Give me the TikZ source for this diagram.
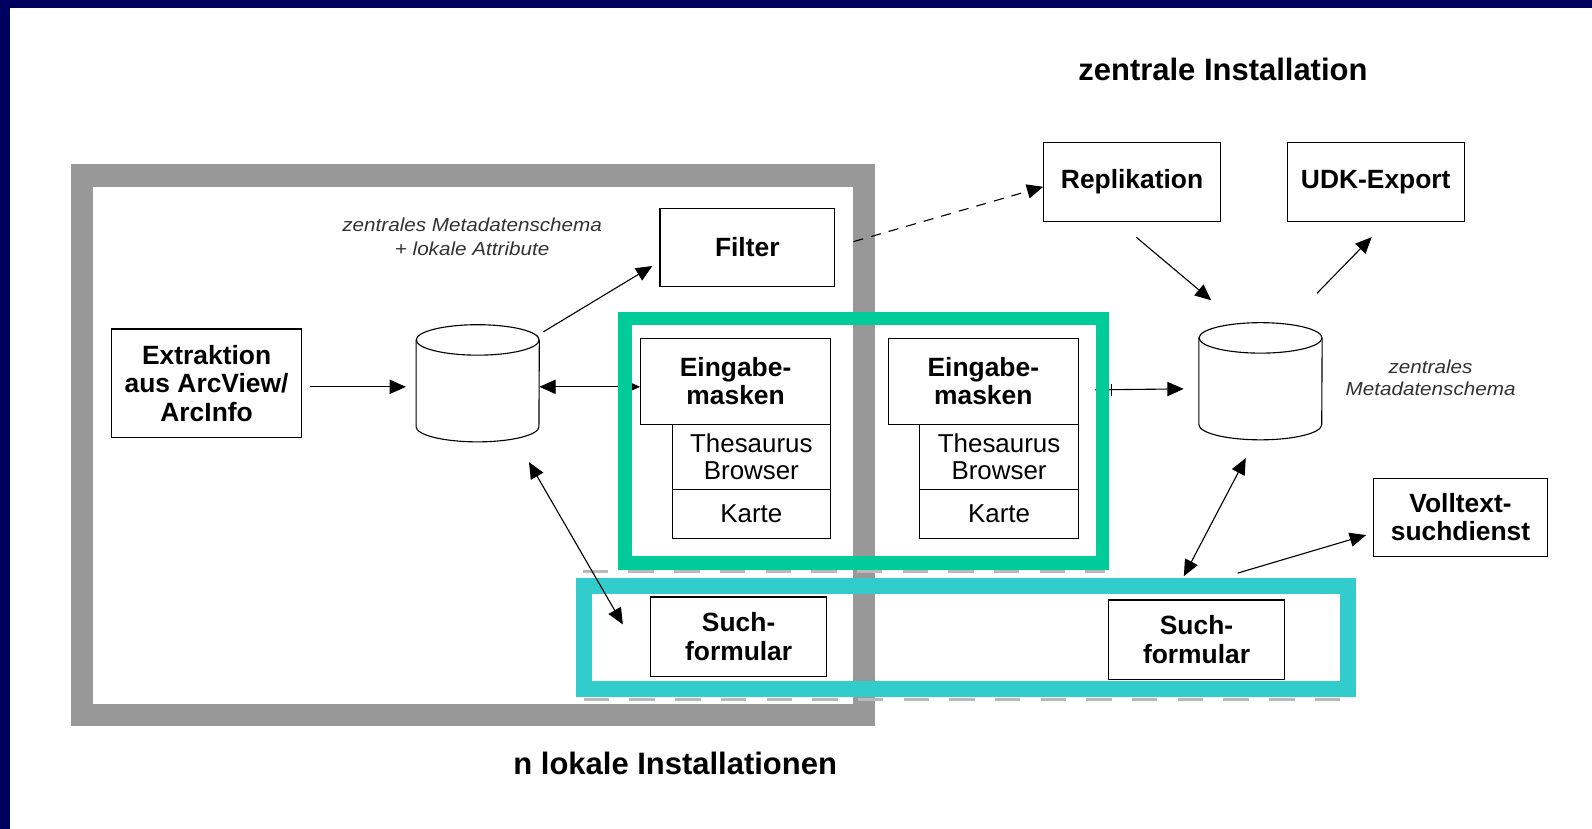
\documentclass[tikz,border=0pt]{standalone}
\usepackage{fontspec}
\setmainfont{Liberation Sans}
\newfontfamily\wideit[FakeStretch=1.1]{Liberation Sans}
\usetikzlibrary{arrows.meta,calc}
\definecolor{navy}{RGB}{0,0,96}
\definecolor{framegray}{RGB}{152,152,152}
\definecolor{mint}{RGB}{0,204,153}
\definecolor{tealbox}{RGB}{51,204,204}
\definecolor{shadowgray}{RGB}{185,185,185}
\definecolor{itgray}{RGB}{50,50,50}
\tikzset{
  boxnode/.style={draw=black, line width=1.1pt, inner sep=0pt, align=center},
  bflab/.style={font=\fontsize{26}{28}\selectfont\bfseries},
  rglab/.style={font=\fontsize{25.5}{27}\selectfont},
  itlab/.style={font=\wideit\itshape\fontsize{18.5}{24}\selectfont, text=itgray, align=center},
  titlelab/.style={font=\fontsize{30.5}{32}\selectfont\bfseries},
  dbnode/.style={draw=none, minimum width=121pt, minimum height=115pt, inner sep=0pt},
  arr/.style={line width=1.1pt, -{Triangle[length=16pt,width=14pt]}},
  darr/.style={line width=1.1pt, {Triangle[length=16pt,width=14pt]}-{Triangle[length=16pt,width=14pt]}},
  dasharr/.style={line width=1.1pt, dash pattern=on 10pt off 8pt, -{Triangle[length=16pt,width=14pt]}},
  cyl/.style={line width=1.1pt}
}
\newcommand{\drawcyl}[1]{%
  \draw[cyl] ([yshift=-15pt]#1.north) ellipse [x radius=60.5pt, y radius=15pt];
  \draw[cyl] ([yshift=-15pt]#1.north west) -- ([yshift=15pt]#1.south west)
     arc[start angle=180, end angle=360, x radius=60.5pt, y radius=15pt]
     -- ([yshift=-15pt]#1.north east);
}
\begin{document}
\begin{tikzpicture}[x=1pt,y=-1pt]
\useasboundingbox (0,0) rectangle (1568,816);
\fill[white] (0,0) rectangle (1568,816);
\fill[navy] (0,0) rectangle (1568,8);
\fill[navy] (0,0) rectangle (10,816);

% gray frame of local installations
\draw[framegray, line width=22pt] (81,173) rectangle (851,704);

% dashed shadows
\draw[shadowgray, line width=3pt, dash pattern=on 25pt off 20pt] (574,563) -- (1088,563);
\draw[shadowgray, line width=3pt, dash pattern=on 25pt off 20pt] (575,689) -- (1336,689);

% boxes
\node[boxnode, bflab, minimum width=187pt, minimum height=107pt] (ext) at (203.5,377.5) {Extraktion\\aus ArcView/\\ArcInfo};
\node[boxnode, bflab, minimum width=172pt, minimum height=77pt] (filter) at (736,243.5) {Filter};
\node[boxnode, bflab, minimum width=187pt, minimum height=85pt] (eL) at (724.5,375.5) {Eingabe-\\masken};
\node[boxnode, rglab, minimum width=156pt, minimum height=64pt] (tL) at (740,450) {Thesaurus\\Browser};
\node[boxnode, rglab, minimum width=156pt, minimum height=48pt] (kL) at (740,506) {Karte};
\node[boxnode, bflab, minimum width=187pt, minimum height=85pt] (eR) at (968.5,375.5) {Eingabe-\\masken};
\node[boxnode, rglab, minimum width=156pt, minimum height=64pt] (tR) at (984,450) {Thesaurus\\Browser};
\node[boxnode, rglab, minimum width=156pt, minimum height=48pt] (kR) at (984,506) {Karte};
\node[boxnode, bflab, minimum width=173pt, minimum height=78pt] (sL) at (727.5,627) {Such-\\formular};
\node[boxnode, bflab, minimum width=173pt, minimum height=78pt] (sR) at (1178.5,630) {Such-\\formular};
\node[boxnode, bflab, minimum width=174pt, minimum height=78pt] (repl) at (1115,179) {Replikation};
\node[boxnode, bflab, minimum width=174pt, minimum height=78pt] (udk) at (1355,179) {UDK-Export};
\node[boxnode, bflab, minimum width=171pt, minimum height=77pt] (voll) at (1438.5,509.5) {Volltext-\\suchdienst};

% databases
\node[dbnode] (db1) at (470.5,377.5) {};
\node[dbnode] (db2) at (1241.5,375.5) {};
\drawcyl{db1}
\drawcyl{db2}

% arrows crossing the green frame (drawn below it)
\draw[darr] ([yshift=-3.5pt]db1.east) -- ([yshift=-5.5pt]eL.west);
\draw[arr] ([xshift=16pt,yshift=-8.5pt]eR.east) -- ([xshift=-15pt,yshift=-7.5pt]db2.west);

% green and cyan frames
\draw[mint, line width=13pt] (615.5,313.5) rectangle (1085.5,554.5);
\draw[tealbox, line width=16pt] (575.5,577) rectangle (1327.5,678.5);

% tick on the right connector
\draw[line width=1.1pt] ([xshift=32pt,yshift=-2.5pt]eR.east) -- ([xshift=32pt,yshift=-14.5pt]eR.east);

% other arrows
\draw[arr] ([xshift=8pt,yshift=-3.5pt]ext.east) -- ([xshift=-10pt,yshift=-3.5pt]db1.west);
\draw[arr] ([xshift=4pt,yshift=-7pt]db1.north east) -- ([xshift=-7pt,yshift=-18.5pt]filter.west);
\draw[dasharr] ([xshift=18pt,yshift=5.5pt]filter.east) -- ([yshift=-5pt]repl.west);
\draw[arr] ([xshift=4pt,yshift=-15pt]repl.south) -- ([xshift=-48.5pt,yshift=22pt]db2.north);
\draw[arr] ([xshift=-5pt,yshift=29pt]db2.north east) -- ([xshift=-4pt,yshift=-15pt]udk.south);
\draw[darr] ([xshift=50.5pt,yshift=-20pt]db1.south) -- ([xshift=-27pt,yshift=12pt]sL.west);
\draw[darr] ([xshift=-14.5pt,yshift=-18pt]db2.south) -- ([xshift=-12.5pt,yshift=23pt]sR.north);
\draw[arr] ([xshift=40.5pt,yshift=26pt]sR.north) -- ([xshift=-7pt,yshift=-17.5pt]voll.west);

% labels
\node[itlab] (lab1) at (465,233) {zentrales Metadatenschema\\+ lokale Attribute};
\node[itlab, font=\wideit\itshape\fontsize{18.5}{21}\selectfont] (lab2) at (1409,372) {zentrales\\Metadatenschema};
\node[titlelab] (title1) at (1204.5,68) {zentrale Installation};
\node[titlelab] (title2) at (665,752) {n lokale Installationen};
\end{tikzpicture}
\end{document}
